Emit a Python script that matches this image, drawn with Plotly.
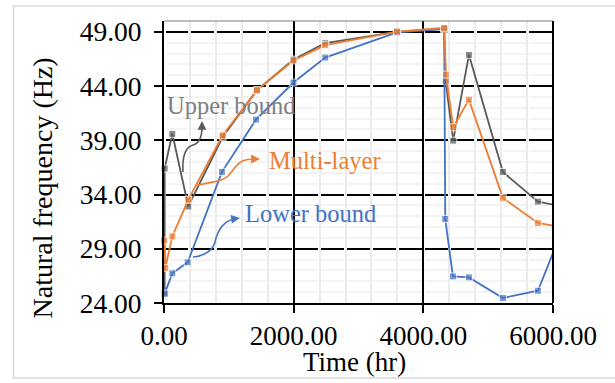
import plotly.graph_objects as go

# ---------------- data ----------------
upper_x = [10, 10, 128, 375, 905, 1430, 1997, 2487, 3594, 4320, 4345, 4461, 4703, 5227, 5767, 6300]
upper_y = [24.86, 36.4, 39.6, 32.9, 39.3, 43.6, 46.45, 47.95, 49.0, 49.3, 44.45, 38.97, 46.88, 36.08, 33.35, 32.7]

multi_x = [0, 20, 128, 375, 905, 1434, 1997, 2487, 3594, 4322, 4349, 4461, 4703, 5227, 5767, 6300]
multi_y = [29.75, 27.23, 30.14, 33.53, 39.46, 43.62, 46.36, 47.77, 49.03, 49.37, 45.06, 40.2, 42.75, 33.69, 31.38, 30.8]

lower_x = [10, 128, 365, 894, 1418, 1997, 2487, 3594, 4322, 4338, 4456, 4703, 5227, 5767, 6200]
lower_y = [24.86, 26.73, 27.75, 36.09, 40.91, 44.33, 46.63, 48.95, 49.25, 31.75, 26.45, 26.36, 24.46, 25.13, 31.6]

x_ticks = [0, 2000, 4000, 6000]
y_ticks = [24, 29, 34, 39, 44, 49]
X_RANGE = [0, 6000]
Y_RANGE = [24, 50]

GRAY = "#595959"
ORANGE = "#ED7D31"
BLUE = "#4472C4"
FONT = "Liberation Serif"

# plot-area geometry (pixels)
L, R, T, B = 164, 62, 21, 80
W, H = 615, 383
PW, PH = W - L - R, H - T - B


def px(xp, yp):
    """pixel position in the picture -> paper coordinates"""
    return (xp - L) / PW, (H - B - yp) / PH


def path(cmds):
    out = []
    for c, pts in cmds:
        s = c
        for (a, b) in pts:
            u, v = px(a, b)
            s += f" {u:.5f},{v:.5f}"
        out.append(s)
    return " ".join(out)


def sizes(xs):
    return [7 if X_RANGE[0] <= x <= X_RANGE[1] else 0 for x in xs]


fig = go.Figure()
for xs, ys, col, name in [(upper_x, upper_y, GRAY, "Upper bound"),
                          (lower_x, lower_y, BLUE, "Lower bound"),
                          (multi_x, multi_y, ORANGE, "Multi-layer")]:
    fig.add_trace(go.Scatter(x=xs, y=ys, mode="lines+markers", name=name,
                             line=dict(color=col, width=1.8),
                             marker=dict(symbol="square", size=sizes(xs), color=col),
                             cliponaxis=False, showlegend=False))

fig.update_layout(
    width=W, height=H,
    margin=dict(l=L, r=R, t=T, b=B),
    paper_bgcolor="white", plot_bgcolor="white",
    font=dict(family=FONT, size=27, color="black"),
)

fig.update_xaxes(
    range=X_RANGE, tickvals=x_ticks, tickformat=".2f",
    showgrid=True, gridcolor="black", gridwidth=2,
    showline=True, linecolor="black", linewidth=2,
    ticks="outside", ticklen=8, tickwidth=2, tickcolor="black",
    zeroline=False,
    minor=dict(dtick=400, tick0=0, showgrid=True, gridcolor="#ebebeb", gridwidth=2),
    tickfont=dict(family=FONT, size=27),
)
fig.update_yaxes(
    range=Y_RANGE, tickvals=y_ticks, tickformat=".2f",
    showgrid=True, gridcolor="black", gridwidth=2, griddash="0px,1.5px,22.94px,1.5px",
    showline=True, linecolor="black", linewidth=2,
    ticks="outside", ticklen=8, tickwidth=2, tickcolor="black",
    zeroline=False, ticklabelstandoff=7,
    minor=dict(dtick=1, tick0=24, showgrid=True, gridcolor="#f3f3f3", gridwidth=1.5),
    tickfont=dict(family=FONT, size=27.5),
)

shapes = []
# outer chart border
bx0, by0 = px(13.5, 378)
bx1, by1 = px(625, 6)
shapes.append(dict(type="rect", xref="paper", yref="paper", x0=bx0, y0=by0, x1=bx1, y1=by1,
                   line=dict(color="#d9d9d9", width=1.5), fillcolor="rgba(0,0,0,0)", layer="below"))
# top & right plot border
shapes.append(dict(type="line", xref="paper", yref="paper", x0=0, y0=1, x1=1, y1=1,
                   line=dict(color="#7a7a7a", width=1)))
shapes.append(dict(type="line", xref="paper", yref="paper", x0=1, y0=0, x1=1, y1=1,
                   line=dict(color="black", width=2)))

# curvy arrows
arrow_defs = [
    (GRAY, [("M", [(183, 172)]), ("C", [(182, 155), (186, 147), (193, 145)]),
            ("C", [(200, 143), (202, 136), (202, 127)])], (202, 121), 0, 7),
    (ORANGE, [("M", [(198, 185)]), ("C", [(210, 182), (222, 182), (228, 176)]),
              ("C", [(234, 170), (238, 160), (248, 159.5)]), ("L", [(254, 159.3)])], (260, 159), -7, 0),
    (BLUE, [("M", [(193, 257)]), ("C", [(205, 256), (213, 250), (215, 242)]),
            ("C", [(217, 233), (221, 222), (234, 219)])], (240, 218), -7, 1),
]
annotations = []
for col, cmds, tip, axo, ayo in arrow_defs:
    shapes.append(dict(type="path", xref="paper", yref="paper", path=path(cmds),
                       line=dict(color=col, width=1.6)))
    tx, ty = px(*tip)
    annotations.append(dict(xref="paper", yref="paper", x=tx, y=ty, ax=axo, ay=ayo,
                            text="", showarrow=True, arrowhead=2, arrowsize=1.1,
                            arrowwidth=1.6, arrowcolor=col))

# series labels
for text, col, (cx, cy) in [("Upper bound", "#7f7f7f", (231, 105)),
                            ("Multi-layer", ORANGE, (324.5, 160)),
                            ("Lower bound", BLUE, (310.5, 213))]:
    u, v = px(cx, cy)
    annotations.append(dict(xref="paper", yref="paper", x=u, y=v, text=text, showarrow=False,
                            xanchor="center", yanchor="middle",
                            font=dict(family=FONT, size=24.5, color=col)))

# axis titles
u, v = px(42, 188.5)
annotations.append(dict(xref="paper", yref="paper", x=u, y=v, text="Natural frequency (Hz)",
                        textangle=-90, showarrow=False, xanchor="center", yanchor="middle",
                        font=dict(family=FONT, size=28, color="black")))
u, v = px(354, 362)
annotations.append(dict(xref="paper", yref="paper", x=u, y=v, text="Time (hr)",
                        showarrow=False, xanchor="center", yanchor="middle",
                        font=dict(family=FONT, size=27, color="black")))

fig.update_layout(shapes=shapes, annotations=annotations)
fig.write_html("out.html")
